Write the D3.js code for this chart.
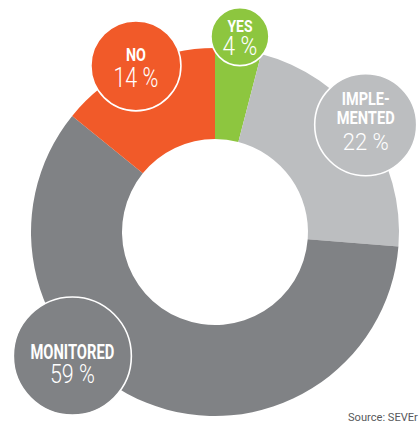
<!DOCTYPE html>
<html>
<head>
<meta charset="utf-8">
<script src="https://cdn.jsdelivr.net/npm/d3@7"></script>
<style>
  html, body { margin: 0; padding: 0; background: #fff; }
  svg text { font-family: Roboto, "Noto Sans", sans-serif; }
</style>
</head>
<body>
<div id="chart"></div>
<script>
// donut.js
const categories = ['YES', 'IMPLEMENTED', 'MONITORED', 'NO'];
const values = [4, 22, 59, 14];
const labelLines = [['YES'], ['IMPLE-', 'MENTED'], ['MONITORED'], ['NO']];
const colors = ['#8dc63f', '#bcbec0', '#808285', '#f15a29'];
const sourceText = 'Source: SEVEr';

(function(){
  const width = 419, height = 426;
  const cx = 215, cy = 232;
  const outerR = 184, innerR = 93;
  // label bubbles: distance from centre, angle (deg, null = slice middle), radius,
  // font sizes, baselines relative to bubble centre, target text widths (condensed look)
  const bubble = {
    YES: { dist: 197, ang: null, r: 29, title: 17, pct: 25, ty: -5, lh: 19, py: 18, tw: [25], pw: 35 },
    IMPLEMENTED: { dist: 185, ang: null, r: 51, title: 18, pct: 24, ty: -20, lh: 19, py: 25, tw: [48, 58], pw: 46 },
    MONITORED: { dist: 189, ang: 229, r: 59, title: 19.5, pct: 25, ty: 3, lh: 19, py: 27, tw: [84], pw: 45 },
    NO: { dist: 184, ang: null, r: 45, title: 18, pct: 28, ty: -5, lh: 19, py: 21, tw: [20], pw: 45 }
  };

  const svg = d3.select('#chart').append('svg')
    .attr('width', width).attr('height', height);
  const g = svg.append('g').attr('transform', `translate(${cx},${cy})`);

  const data = categories.map((c, i) => ({ name: c, value: values[i], lines: labelLines[i], color: colors[i] }));
  const pie = d3.pie().value(d => d.value).sort(null);
  const arcs = pie(data);
  const arc = d3.arc().innerRadius(innerR).outerRadius(outerR);

  g.selectAll('path.slice')
    .data(arcs)
    .join('path')
    .attr('class', 'slice')
    .attr('d', arc)
    .attr('fill', d => d.data.color);

  // squeeze a text horizontally to the wanted width (no condensed font installed)
  function fit(text, x, y, w) {
    const len = text.node().getComputedTextLength();
    const s = w / len;
    text.attr('x', 0).attr('y', 0)
      .attr('transform', `translate(${x},${y}) scale(${s},1)`);
  }

  const labels = g.selectAll('g.lbl')
    .data(arcs)
    .join('g')
    .attr('class', 'lbl')
    .attr('transform', d => {
      const b = bubble[d.data.name];
      const a = b.ang != null ? b.ang * Math.PI / 180 : (d.startAngle + d.endAngle) / 2;
      return `translate(${b.dist * Math.sin(a)},${-b.dist * Math.cos(a)})`;
    });

  labels.append('circle')
    .attr('r', d => bubble[d.data.name].r)
    .attr('fill', d => d.data.color)
    .attr('stroke', '#fff')
    .attr('stroke-width', 1.6);

  labels.each(function(d){
    const b = bubble[d.data.name];
    const sel = d3.select(this);
    d.data.lines.forEach((line, i) => {
      const t = sel.append('text')
        .attr('text-anchor', 'middle')
        .attr('font-size', b.title)
        .attr('font-weight', 'bold')
        .attr('fill', '#fff')
        .text(line);
      fit(t, 0, b.ty + i * b.lh, b.tw[i]);
    });
    const p = sel.append('text')
      .attr('text-anchor', 'middle')
      .attr('font-size', b.pct)
      .attr('font-weight', 300)
      .attr('fill', '#fff')
      .text(d.data.value + ' %');
    fit(p, 0, b.py, b.pw);
  });

  const src = svg.append('text')
    .attr('font-size', 10.5)
    .attr('fill', '#58595b')
    .text(sourceText);
  const sl = src.node().getComputedTextLength();
  src.attr('transform', `translate(348,421) scale(${70 / sl},1)`);
})();
</script>
</body>
</html>
